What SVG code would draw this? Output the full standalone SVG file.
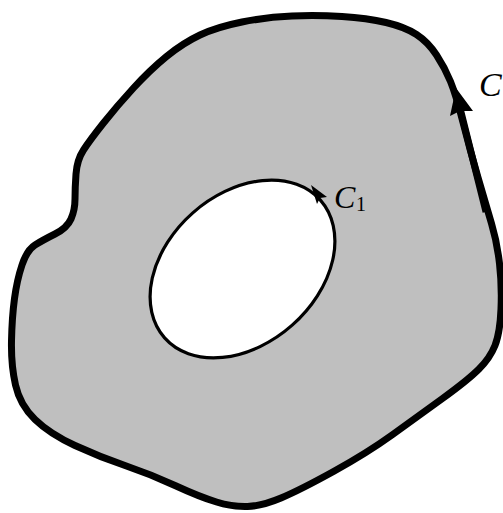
<svg xmlns="http://www.w3.org/2000/svg" width="503" height="513" viewBox="0 0 503 513">
<style>
.lbl{font-family:"Liberation Serif","Times New Roman",serif;fill:#000}
</style>
<rect width="503" height="513" fill="#fff"/>
<g id="region">
<path fill="#bfbfbf" fill-rule="evenodd" stroke="none" d="M292,16 Q317,15 342,16.5 Q367,18 386,22.5 Q405,27 416.5,34.5 Q428,42 436.5,55 Q445,68 450.5,81.5 Q456,95 463,122.5 Q470,150 478,177.5 Q486,205 491.5,223.5 Q497,242 499.5,263.5 Q502,285 501,309 Q500,333 495,345.5 Q490,358 479,369 Q468,380 442.5,398.5 Q417,417 392,435 Q367,453 333.5,471.5 Q300,490 281,498 Q262,506 247.5,506.5 Q233,507 216.5,502 Q200,497 175,485.5 Q150,474 125,465.5 Q100,457 75,445.5 Q50,434 35,419.5 Q20,405 15.5,385 Q11,365 11.5,341 Q12,317 14.5,298.5 Q17,280 22,265 Q27,250 35,245 Q43,240 55,234 Q67,228 71,219 Q75,210 75,199 Q75,188 76,174 Q77,160 83.5,150 Q90,140 103.5,123 Q117,106 133.5,88 Q150,70 166.5,56.5 Q183,43 200,35 Q217,27 242,22 Q267,17 292,16 Z"/>
<ellipse cx="242.5" cy="269" rx="104" ry="75" transform="rotate(-41.5 242.5 269)" fill="#fff"/>
</g>
<g id="C" fill="none" stroke="#000">
<path stroke-width="7" stroke-linejoin="round" d="M292,16 Q317,15 342,16.5 Q367,18 386,22.5 Q405,27 416.5,34.5 Q428,42 436.5,55 Q445,68 450.5,81.5 Q456,95 463,122.5 Q470,150 478,177.5 Q486,205 491.5,223.5 Q497,242 499.5,263.5 Q502,285 501,309 Q500,333 495,345.5 Q490,358 479,369 Q468,380 442.5,398.5 Q417,417 392,435 Q367,453 333.5,471.5 Q300,490 281,498 Q262,506 247.5,506.5 Q233,507 216.5,502 Q200,497 175,485.5 Q150,474 125,465.5 Q100,457 75,445.5 Q50,434 35,419.5 Q20,405 15.5,385 Q11,365 11.5,341 Q12,317 14.5,298.5 Q17,280 22,265 Q27,250 35,245 Q43,240 55,234 Q67,228 71,219 Q75,210 75,199 Q75,188 76,174 Q77,160 83.5,150 Q90,140 103.5,123 Q117,106 133.5,88 Q150,70 166.5,56.5 Q183,43 200,35 Q217,27 242,22 Q267,17 292,16 Z"/>
<line x1="486" y1="212" x2="459" y2="104" stroke-width="7"/>
<polygon points="456,88 450,116 460,111 473,111" fill="#000" stroke="none"/>
</g>
<g id="C1" fill="none" stroke="#000">
<ellipse cx="242.5" cy="269" rx="104" ry="75" transform="rotate(-41.5 242.5 269)" stroke-width="3.2"/>
<polygon points="311,185 327,197 320,198 317,204" fill="#000" stroke="none"/>
</g>
<g id="labels">
<text class="lbl" x="479" y="96" font-size="34" font-style="italic" font-family="Liberation Serif, serif">C</text>
<text class="lbl" x="334" y="208" font-size="32" font-style="italic" font-family="Liberation Serif, serif">C</text>
<text class="lbl" x="356" y="211" font-size="20" font-family="Liberation Serif, serif">1</text>
</g>
</svg>
